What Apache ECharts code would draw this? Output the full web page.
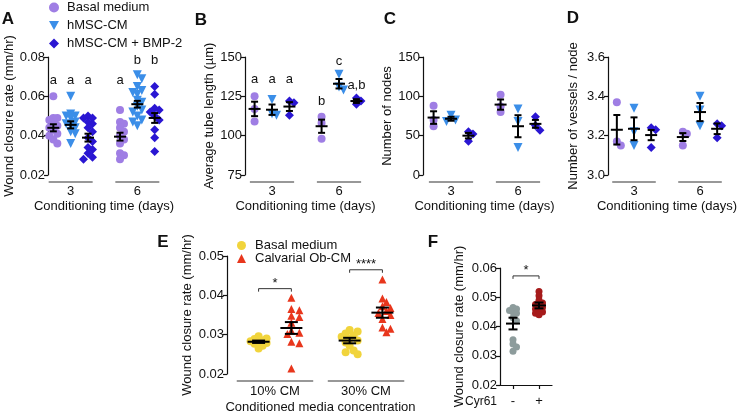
<!DOCTYPE html>
<html><head><meta charset="utf-8">
<script src="https://cdn.jsdelivr.net/npm/echarts@6/dist/echarts.min.js"></script>
<style>html,body{margin:0;padding:0;background:#fff}#c{width:741px;height:415px}</style>
</head><body><div id="c"></div><script>
// ================= DATA =================
const timeCategories = ['3', '6'];
const seriesNames = ['Basal medium', 'hMSC-CM', 'hMSC-CM + BMP-2'];

// Panel A: wound closure rate (mm/hr); each array = [day 3, day 6]
const aBasal = [[0.060,0.049,0.049,0.048,0.047,0.045,0.044,0.043,0.041,0.040,0.038,0.036],
                [0.053,0.047,0.046,0.044,0.042,0.040,0.038,0.036,0.031,0.030,0.028]];
const aHmsc  = [[0.060,0.051,0.050,0.050,0.049,0.047,0.046,0.045,0.044,0.042,0.041,0.036],
                [0.071,0.069,0.065,0.063,0.062,0.061,0.058,0.057,0.055,0.053,0.052,0.050,0.048,0.047,0.045]];
const aBmp   = [[0.050,0.049,0.049,0.047,0.046,0.044,0.042,0.039,0.037,0.034,0.033,0.031,0.029,0.028],
                [0.065,0.061,0.054,0.053,0.052,0.050,0.048,0.043,0.039,0.032]];
const aMean = [[0.044,0.0395],[0.0455,0.056],[0.039,0.049]];
const aSem  = [[0.0018,0.002],[0.0018,0.0017],[0.002,0.0025]];
const aLetters = [['a','a'],['a','b'],['a','b']];
const aLetterY = [[0.068,0.068],[0.068,0.0785],[0.068,0.0785]];

// Panel B: average tube length (µm)
const bBasal = [[125,117,109],[112,108,98]];
const bHmsc  = [[123,114,113],[139,131,129]];
const bBmp   = [[122,121,113],[124,122,120]];
const bMean = [[117,106],[116.5,133],[118.5,122]];
const bSem  = [[4.6,4.2],[3.3,3],[2.8,1.2]];
const bLetters = [['a','b'],['a','c'],['a','a,b']];
const bLetterY = [[135.5,121.6],[135.5,147.5],[135.5,131.7]];

// Panel C: number of nodes
const cBasal = [[88,70,62],[102,87,80]];
const cHmsc  = [[76,70,68],[84,68,35]];
const cBmp   = [[55,52,43],[74,63,57]];
const cMean = [[73,89.5],[71.5,62],[50,65]];
const cSem  = [[8,6.5],[2.5,14],[3.5,5]];

// Panel D: number of vessels / node
const dBasal = [[3.37,3.17,3.15],[3.22,3.21,3.15]];
const dHmsc  = [[3.34,3.22,3.15],[3.40,3.33,3.25]];
const dBmp   = [[3.24,3.23,3.14],[3.26,3.25,3.19]];
const dMean = [[3.23,3.193],[3.235,3.32],[3.203,3.235]];
const dSem  = [[0.075,0.02],[0.058,0.046],[0.026,0.027]];

// Panel E: wound closure rate vs conditioned media concentration
const eCategories = ['10% CM', '30% CM'];
const eNames = ['Basal medium', 'Calvarial Ob-CM'];
const eBasal = [[0.0296,0.029,0.0289,0.0285,0.0283,0.028,0.0279,0.0277,0.0272,0.0265],
                [0.0312,0.0308,0.0303,0.0298,0.0295,0.029,0.0285,0.028,0.0272,0.026,0.0255,0.025]];
const eCalv  = [[0.0394,0.0365,0.0362,0.0348,0.0345,0.033,0.031,0.0305,0.0302,0.0282,0.0278,0.0214],
                [0.044,0.0392,0.0383,0.0372,0.0368,0.036,0.0355,0.035,0.034,0.0318,0.0315,0.0306]];
const eMean = [[0.0282,0.0285],[0.0317,0.0356]];
const eSem  = [[0.0003,0.0007],[0.0015,0.0013]];
const eSig = ['*', '****'];
const eSigY = [0.0417, 0.0465];

// Panel F: wound closure rate with / without Cyr61
const fCategories = ['-', '+'];
const fValues = [[0.0465,0.046,0.0455,0.045,0.0445,0.043,0.042,0.0355,0.034,0.033,0.0315],
                 [0.052,0.0505,0.049,0.048,0.0475,0.047,0.0465,0.046,0.0455,0.045,0.0445,0.044]];
const fMean = [0.041, 0.0472];
const fSem  = [0.002, 0.001];
const fSig = '*';
const fSigY = 0.0573;

// ================= STYLE / LAYOUT =================
const FONT = '"Liberation Sans", Arial, Helvetica, sans-serif';
const INK = '#111';
const C_PURPLE = '#9f7ee4', C_LBLUE = '#3b8ee8', C_DBLUE = '#2a16d2';
const C_YELLOW = '#f1d43c', C_RED = '#e8361c', C_GREY = '#8d9c9c', C_DRED = '#a61b1b';
const TRI_DOWN = 'path://M0,0L10,0L5,9Z';

const option = {animation:false, backgroundColor:'#fff', textStyle:{fontFamily:FONT},
  grid:[], xAxis:[], yAxis:[], series:[], legend:[], graphic:[]};

// deterministic beeswarm-style horizontal spread (pixels)
function swarm(vals, pxPerUnit, d, maxOff) {
  const idx = vals.map((v,i)=>i).sort((a,b)=>vals[b]-vals[a]);
  const placed = []; const off = new Array(vals.length).fill(0);
  const step = d*0.5, minD = d*0.6;
  for (const i of idx) {
    const y = vals[i]*pxPerUnit;
    let best = 0, bestD = -1;
    for (let k=0;k<40;k++) {
      const cand = k===0 ? 0 : (k%2 ? 1 : -1)*Math.ceil(k/2)*step;
      if (Math.abs(cand) > maxOff) break;
      const dmin = placed.reduce((m,p) => Math.min(m, Math.hypot(p[0]-cand, p[1]-y)), 1e9);
      if (dmin >= minD) { best = cand; bestD = 1e9; break; }
      if (dmin > bestD) { bestD = dmin; best = cand; }
    }
    off[i] = best; placed.push([best,y]);
  }
  return off;
}

function errRender(mw, cw, lw) {
  return function(params, api) {
    const x = api.value(0), m = api.value(1), s = api.value(2);
    const pm = api.coord([x,m]), pt = api.coord([x,m+s]), pb = api.coord([x,m-s]);
    const st = {stroke:'#000', lineWidth:lw};
    return {type:'group', children:[
      {type:'line', shape:{x1:pm[0]-mw,y1:pm[1],x2:pm[0]+mw,y2:pm[1]}, style:st},
      {type:'line', shape:{x1:pt[0],y1:pt[1],x2:pb[0],y2:pb[1]}, style:st},
      {type:'line', shape:{x1:pt[0]-cw,y1:pt[1],x2:pt[0]+cw,y2:pt[1]}, style:st},
      {type:'line', shape:{x1:pb[0]-cw,y1:pb[1],x2:pb[0]+cw,y2:pb[1]}, style:st}
    ]};
  };
}

function textEl(x, y, text, font, align) {
  return {type:'text', x:x, y:y, style:{text:text, font:font, fill:INK,
    align:align||'center', verticalAlign:'middle', textAlign:align||'center', textVerticalAlign:'middle'}};
}

function yAxisCfg(gi, p) {
  return {type:'value', gridIndex:gi, min:p.ymin, max:p.ymax, interval:p.yint,
    axisLine:{show:true, onZero:false, lineStyle:{color:INK, width:1.2}},
    axisTick:{show:true, length:4, lineStyle:{color:INK, width:1.2}},
    splitLine:{show:false},
    axisLabel:{color:INK, fontSize:13, margin:3, formatter: v => Number(v).toFixed(p.dec)},
    name:p.yName, nameLocation:'middle', nameGap:p.yNameGap,
    nameTextStyle:{color:INK, fontSize:13}};
}

function addGroupedPanel(p) {
  const gi = option.grid.length;
  option.grid.push({left:p.left, top:p.top, width:p.width, height:p.height});
  option.xAxis.push({type:'value', gridIndex:gi, min:-p.pad, max:1+p.pad,
    axisLine:{show:false, onZero:false}, axisTick:{show:false}, splitLine:{show:false},
    axisLabel:{show:true, customValues:[0,1], formatter: v => p.cats[Math.round(v)],
      color:INK, fontSize:13, margin:p.labelMargin},
    name:p.xName, nameLocation:'middle', nameGap:p.xNameGap,
    nameTextStyle:{color:INK, fontSize:13}});
  option.yAxis.push(yAxisCfg(gi, p));
  const pxPerUnit = p.height/(p.ymax-p.ymin);
  const nS = p.groups.length;
  p.groups.forEach((s, si) => {
    const dx = (si - (nS-1)/2) * p.sep;
    const data = [];
    s.values.forEach((vals, g) => {
      const offs = swarm(vals, pxPerUnit, s.size, p.maxOff);
      vals.forEach((v,i) => data.push({value:[g+dx, v], symbolOffset:[offs[i], 0]}));
    });
    option.series.push({type:'scatter', name:s.name, xAxisIndex:gi, yAxisIndex:gi,
      symbol:s.symbol, symbolSize:s.size,
      itemStyle:{color:s.color, opacity:1}, data:data, z:2, silent:true, clip:false});
    option.series.push({type:'custom', xAxisIndex:gi, yAxisIndex:gi, z:5, silent:true,
      renderItem: errRender(p.meanHW, p.capHW, 2),
      data: s.mean.map((m,g) => [g+dx, m, s.sem[g]])});
    if (s.letters) {
      const txt = s.letters;
      option.series.push({type:'custom', xAxisIndex:gi, yAxisIndex:gi, z:5, silent:true,
        renderItem: (params, api) => {
          const c = api.coord([api.value(0), api.value(1)]);
          return textEl(c[0], c[1], txt[params.dataIndex], '13px '+FONT);
        },
        data: s.letterY.map((y,g) => [g+dx, y])});
    }
  });
  // group underlines
  option.series.push({type:'custom', xAxisIndex:gi, yAxisIndex:gi, silent:true, z:3,
    renderItem: (params, api) => {
      const x = api.value(0);
      const a = api.coord([x-p.lineHW, p.ymin]), b = api.coord([x+p.lineHW, p.ymin]);
      return {type:'line', shape:{x1:a[0], y1:a[1]+p.lineDY, x2:b[0], y2:b[1]+p.lineDY},
        style:{stroke:'#333', lineWidth:1.2}};
    },
    data: [[0, p.ymin], [1, p.ymin]]});
  // significance brackets
  if (p.sig) {
    option.series.push({type:'custom', xAxisIndex:gi, yAxisIndex:gi, silent:true, z:3,
      renderItem: (params, api) => {
        const g = api.value(0), y = api.value(1);
        const a = api.coord([g - p.sep/2, y]), b = api.coord([g + p.sep/2, y]);
        const st = {stroke:'#333', lineWidth:1, fill:null};
        return {type:'group', children:[
          {type:'polyline', shape:{points:[[a[0],a[1]+3],[a[0],a[1]],[b[0],b[1]],[b[0],b[1]+3]]}, style:st},
          textEl((a[0]+b[0])/2, a[1]-5, p.sig[params.dataIndex], '13px '+FONT)
        ]};
      },
      data: p.sigY.map((y,g) => [g, y])});
  }
  return gi;
}

const common = {top:57, height:118, cats:timeCategories, xName:'Conditioning time (days)',
  xNameGap:25, labelMargin:10, sep:0.26, lineHW:0.33, lineDY:7, meanHW:6, capHW:3.5, maxOff:7};

function abcdGroups(b, h, m, mean, sem, letters, letterY) {
  const vals = [b, h, m];
  const sty = [
    {symbol:'circle', size:8, color:C_PURPLE},
    {symbol:TRI_DOWN, size:9, color:C_LBLUE},
    {symbol:'diamond', size:9, color:C_DBLUE}];
  return vals.map((v,i) => Object.assign({name:seriesNames[i], values:v, mean:mean[i], sem:sem[i],
    letters: letters ? letters[i] : null, letterY: letterY ? letterY[i] : null}, sty[i]));
}

addGroupedPanel(Object.assign({}, common, {left:48, width:112, pad:0.34, ymin:0.02, ymax:0.08, yint:0.02, dec:2,
  yName:'Wound closure rate (mm/hr)', yNameGap:32,
  groups: abcdGroups(aBasal, aHmsc, aBmp, aMean, aSem, aLetters, aLetterY)}));
addGroupedPanel(Object.assign({}, common, {left:245, width:121, pad:0.403, ymin:75, ymax:150, yint:25, dec:0,
  yName:'Average tube length (\u00b5m)', yNameGap:27,
  groups: abcdGroups(bBasal, bHmsc, bBmp, bMean, bSem, bLetters, bLetterY)}));
addGroupedPanel(Object.assign({}, common, {left:423, width:123, pad:0.418, ymin:0, ymax:150, yint:50, dec:0,
  yName:'Number of nodes', yNameGap:24,
  groups: abcdGroups(cBasal, cHmsc, cBmp, cMean, cSem)}));
addGroupedPanel(Object.assign({}, common, {left:608, width:118, pad:0.394, ymin:3.0, ymax:3.6, yint:0.2, dec:1,
  yName:'Number of vessels / node', yNameGap:28,
  groups: abcdGroups(dBasal, dHmsc, dBmp, dMean, dSem)}));

// Panel E
addGroupedPanel({left:227, top:256, width:187, height:119, pad:0.527, ymin:0.02, ymax:0.05, yint:0.01, dec:2,
  cats:eCategories, xName:'Conditioned media concentration', xNameGap:27, labelMargin:11,
  yName:'Wound closure rate (mm/hr)', yNameGap:33,
  sep:0.36, lineHW:0.42, lineDY:7, meanHW:11, capHW:6.5, maxOff:11,
  sig:eSig, sigY:eSigY,
  groups:[
    {name:'E: '+eNames[0], values:eBasal, mean:eMean[0], sem:eSem[0], symbol:'circle', size:8, color:C_YELLOW},
    {name:'E: '+eNames[1], values:eCalv, mean:eMean[1], sem:eSem[1], symbol:'triangle', size:8, color:C_RED}
  ]});

// Panel F
(function(){
  const gi = option.grid.length;
  const p = {left:500, top:268, width:52, height:117, ymin:0.02, ymax:0.06, yint:0.01, dec:2,
    yName:'Wound closure rate (mm/hr)', yNameGap:34};
  option.grid.push({left:p.left, top:p.top, width:p.width, height:p.height});
  option.xAxis.push({type:'category', gridIndex:gi, data:fCategories, boundaryGap:true,
    axisLine:{show:true, onZero:false, lineStyle:{color:INK, width:1.2}},
    axisTick:{show:true, alignWithLabel:true, length:4, lineStyle:{color:INK, width:1.2}},
    axisLabel:{color:INK, fontSize:13, margin:10}, splitLine:{show:false}});
  option.yAxis.push(yAxisCfg(gi, p));
  const pxPerUnit = p.height/(p.ymax-p.ymin);
  const cols = [C_GREY, C_DRED];
  fValues.forEach((vals, g) => {
    const offs = swarm(vals, pxPerUnit, 7, 4);
    option.series.push({type:'scatter', name:'Cyr61 '+fCategories[g], xAxisIndex:gi, yAxisIndex:gi,
      symbol:'circle', symbolSize:7, itemStyle:{color:cols[g], opacity:1}, silent:true, z:2, clip:false,
      data: vals.map((v,i) => ({value:[g, v], symbolOffset:[offs[i], 0]}))});
  });
  option.series.push({type:'custom', xAxisIndex:gi, yAxisIndex:gi, z:5, silent:true,
    renderItem: errRender(7, 4.5, 2), data: fMean.map((m,g) => [g, m, fSem[g]])});
  option.series.push({type:'custom', xAxisIndex:gi, yAxisIndex:gi, z:3, silent:true,
    renderItem: (params, api) => {
      const y = api.value(1);
      const a = api.coord([0, y]), b = api.coord([1, y]);
      const st = {stroke:'#333', lineWidth:1, fill:null};
      return {type:'group', children:[
        {type:'polyline', shape:{points:[[a[0],a[1]+3],[a[0],a[1]],[b[0],b[1]],[b[0],b[1]+3]]}, style:st},
        textEl((a[0]+b[0])/2, a[1]-5, fSig, '13px '+FONT)
      ]};
    },
    data:[[0, fSigY]]});
})();

// Legends
option.legend.push({data:seriesNames, orient:'vertical', left:44, top:-4, itemWidth:10, itemHeight:10,
  itemGap:5, selectedMode:false, textStyle:{fontSize:13, color:INK, padding:[0,0,0,3]}});
option.legend.push({data:eNames.map(n => 'E: '+n), orient:'vertical', left:232, top:234, itemWidth:9, itemHeight:9,
  itemGap:0, selectedMode:false, formatter: n => n.replace('E: ',''), textStyle:{fontSize:13, color:INK, padding:[0,0,0,4]}});

// Panel letters and extra labels
const panelLetters = [['A',8,19],['B',201,20.5],['C',390,19.5],['D',573,18],['E',163,242],['F',433,242.5]];
panelLetters.forEach(l => option.graphic.push(Object.assign(textEl(l[1], l[2], l[0], 'bold 17px '+FONT), {z:10})));
option.graphic.push(Object.assign(textEl(497, 402, 'Cyr61', '12px '+FONT, 'right'), {z:10}));

const chart = echarts.init(document.getElementById('c'), null, {renderer:'canvas'});
chart.setOption(option);
</script></body></html>
